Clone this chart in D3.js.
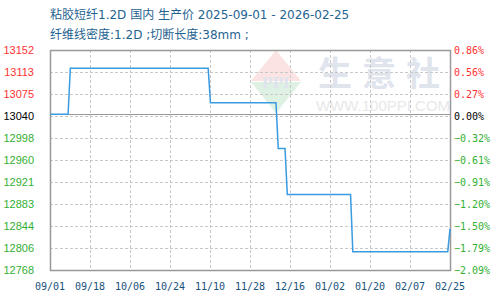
<!DOCTYPE html>
<html>
<head>
<meta charset="utf-8">
<script src="https://cdn.jsdelivr.net/npm/d3@7"></script>
<style>
  body { margin: 0; background: #fff; }
  svg { display: block; }
</style>
</head>
<body>
<svg id="chart" width="500" height="300"></svg>
<script>
// price series (change points)
var dates = ["2025-09-01", "2025-09-09", "2025-09-10", "2025-11-10", "2025-11-11",
             "2025-12-10", "2025-12-11", "2025-12-14", "2025-12-15", "2026-01-12",
             "2026-01-13", "2026-02-24", "2026-02-25"];
var prices = [13040, 13040, 13120, 13120, 13060,
              13060, 12980, 12980, 12900, 12900,
              12800, 12800, 12840];

var basePrice = 13040;
var yMin = 12768, yMax = 13152;
var yTickLabels = ["13152", "13113", "13075", "13040", "12998", "12960",
                   "12921", "12883", "12844", "12806", "12768"];
var pctLabels = ["0.86%", "0.56%", "0.27%", "0.00%", "-0.32%", "-0.61%",
                 "-0.91%", "-1.20%", "-1.50%", "-1.79%", "-2.09%"];
var xTickLabels = ["09/01", "09/18", "10/06", "10/24", "11/10", "11/28",
                   "12/16", "01/02", "01/20", "02/07", "02/25"];

var title = "粘胶短纤1.2D 国内 生产价 2025-09-01 - 2026-02-25";
var subtitle = "纤维线密度:1.2D ;切断长度:38mm ;";

var margin = {top: 50, right: 50, bottom: 30, left: 50};
var width = 500 - margin.left - margin.right;
var height = 300 - margin.top - margin.bottom;

var parse = d3.timeParse("%Y-%m-%d");
var data = dates.map(function(d, i) { return {date: parse(d), price: prices[i]}; });

var svg = d3.select("#chart");

svg.append("text")
  .attr("x", 50).attr("y", 19)
  .attr("fill", "#1f6391")
  .style("font", "12px 'DejaVu Sans', 'Noto Sans CJK SC', sans-serif")
  .text(title);

svg.append("text")
  .attr("x", 50).attr("y", 39)
  .attr("fill", "#1f6391")
  .style("font", "12px 'DejaVu Sans', 'Noto Sans CJK SC', sans-serif")
  .text(subtitle);

var chartGroup = svg.append("g")
  .attr("transform", `translate(${margin.left}, ${margin.top})`);

var xScale = d3.scaleTime()
  .domain([parse("2025-09-01"), parse("2026-02-25")])
  .range([0, width]);

var yScale = d3.scaleLinear()
  .domain([yMin, yMax])
  .range([height, 0]);

// evenly spaced tick positions
var nY = yTickLabels.length;
var yTickVals = d3.range(nY).map(function(i) { return yMax - i * (yMax - yMin) / (nY - 1); });
var xPos = d3.scalePoint().domain(xTickLabels).range([0, width]);

// watermark
var wm = chartGroup.append("g");
var dx = 226, dy = 0;
wm.append("path")
  .attr("d", `M${dx},${dy} L${dx + 25},${dy + 31} L${dx - 25},${dy + 31} Z`)
  .attr("fill", "#fbe3e3");
wm.append("path")
  .attr("d", `M${dx - 25},${dy + 32} L${dx + 25},${dy + 32} L${dx},${dy + 63} Z`)
  .attr("fill", "#def1e2");
wm.append("text")
  .attr("x", dx).attr("y", dy + 38)
  .attr("text-anchor", "middle")
  .attr("fill", "#dfe4ee")
  .style("font", "bold 17px 'Liberation Serif', serif")
  .text("PPI");
wm.append("text")
  .attr("x", 334).attr("y", 36)
  .attr("text-anchor", "middle")
  .attr("fill", "#e0e4ed")
  .style("font", "bold 34px 'Noto Sans CJK SC', sans-serif")
  .style("letter-spacing", "10px")
  .text("生意社");
wm.append("text")
  .attr("x", 333).attr("y", 61)
  .attr("text-anchor", "middle")
  .attr("fill", "#e8e8e8")
  .style("font", "15px 'Liberation Sans', sans-serif")
  .text("WWW.100PPI.COM");

// grid
chartGroup.selectAll(".hgrid")
  .data(yTickVals)
  .enter()
  .append("line")
  .attr("x1", 0).attr("x2", width)
  .attr("y1", d => Math.round(yScale(d)) + 0.5)
  .attr("y2", d => Math.round(yScale(d)) + 0.5)
  .attr("stroke", "#c8c8c8")
  .attr("stroke-dasharray", "3,2");

chartGroup.selectAll(".vgrid")
  .data(xTickLabels)
  .enter()
  .append("line")
  .attr("x1", d => Math.round(xPos(d)) + 0.5)
  .attr("x2", d => Math.round(xPos(d)) + 0.5)
  .attr("y1", 0).attr("y2", height)
  .attr("stroke", "#c8c8c8")
  .attr("stroke-dasharray", "3,2");

// base line
chartGroup.append("line")
  .attr("x1", 0).attr("x2", width)
  .attr("y1", Math.round(yScale(basePrice)) + 0.5)
  .attr("y2", Math.round(yScale(basePrice)) + 0.5)
  .attr("stroke", "#999");

// frame
chartGroup.append("rect")
  .attr("x", 0.5).attr("y", 0.5)
  .attr("width", width).attr("height", height)
  .attr("fill", "none")
  .attr("stroke", "#999")
  .attr("stroke-width", 1.5);

// line
var line = d3.line()
  .x(d => xScale(d.date))
  .y(d => yScale(d.price));

chartGroup.append("path")
  .datum(data)
  .attr("d", line)
  .attr("fill", "none")
  .attr("stroke", "#3a9be0")
  .attr("stroke-width", 1.5);

// y labels
function tickColor(i) {
  if (i < 3) return "#ff3333";
  if (i === 3) return "#000";
  return "#33b033";
}

chartGroup.selectAll(".ylab")
  .data(yTickVals)
  .enter()
  .append("text")
  .attr("x", -16)
  .attr("y", d => yScale(d) + 4)
  .attr("text-anchor", "end")
  .attr("fill", (d, i) => tickColor(i))
  .style("font", "11px 'Liberation Sans', sans-serif")
  .text((d, i) => yTickLabels[i]);

chartGroup.selectAll(".plab")
  .data(yTickVals)
  .enter()
  .append("text")
  .attr("x", width + 4)
  .attr("y", d => yScale(d) + 4)
  .attr("fill", (d, i) => tickColor(i))
  .style("font", "10px 'DejaVu Sans Mono', monospace")
  .text((d, i) => pctLabels[i].replace("-", "\u2212"));

// x labels
chartGroup.selectAll(".xlab")
  .data(xTickLabels)
  .enter()
  .append("text")
  .attr("x", d => xPos(d))
  .attr("y", height + 20)
  .attr("text-anchor", "middle")
  .attr("fill", "#17517d")
  .style("font", "10px 'DejaVu Sans Mono', monospace")
  .text(d => d);
</script>
</body>
</html>
